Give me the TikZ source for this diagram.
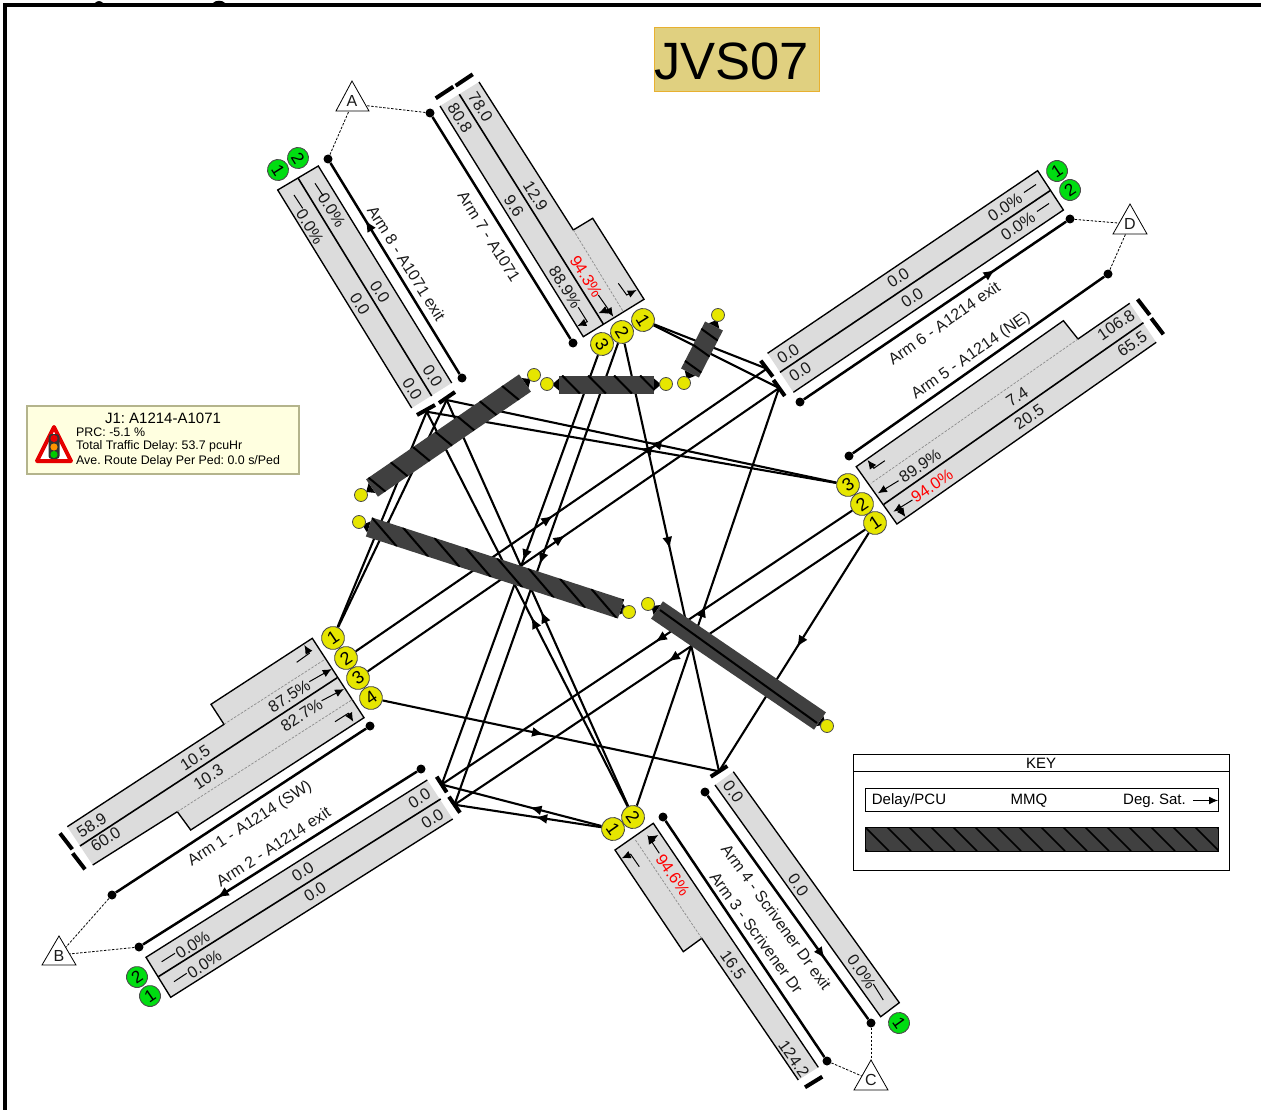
\documentclass[tikz,border=0pt]{standalone}
\usepackage{fontspec}
\setmainfont{Liberation Sans}
\usetikzlibrary{arrows.meta,decorations.markings,calc}
\definecolor{lanegrey}{HTML}{DCDCDC}
\definecolor{yel}{HTML}{E6E600}
\definecolor{grn}{HTML}{00DD11}
\definecolor{bardark}{HTML}{404040}
\definecolor{txt}{HTML}{1A1A1A}
\definecolor{titlefill}{HTML}{E0D080}
\definecolor{titleedge}{HTML}{E8B030}
\definecolor{infofill}{HTML}{FFFFE0}
\definecolor{infoedge}{HTML}{B4B48C}
\newcounter{tn}
\frenchspacing
\tikzset{
  x=1pt,y=-1pt,
  lanefill/.style={fill=lanegrey,draw=none},
  laneline/.style={draw=black,line width=1.35pt,line join=miter},
  lanediv/.style={draw=black,line width=1.6pt},
  lanedash/.style={draw=gray!90,line width=.7pt,dash pattern=on 2.5pt off 1.5pt},
  stopbar/.style={draw=black,line width=4pt},
  conn/.style={draw=black,line width=2.1pt},
  midarrow/.style={postaction={decorate,decoration={markings,mark=at position #1 with {\arrow{Latex[length=12pt,width=10pt]}}}}},
  armline/.style={draw=black,line width=2.5pt,shorten >=0pt},
  armdot/.style={circle,fill=black,minimum size=9pt,inner sep=0pt},
  stub/.style={draw=black,line width=1pt,-{Latex[length=9pt,width=8pt]}},
  stubline/.style={draw=black,line width=1pt},
  tlink/.style={draw=black,line width=.8pt,dash pattern=on 2.5pt off 1.5pt},
  ycirc/.style={circle,fill=yel,draw=black!70,line width=.9pt,minimum size=23pt,inner sep=0pt,font=\fontsize{18}{18}\selectfont},
  gcirc/.style={circle,fill=grn,draw=black!70,line width=.9pt,minimum size=21pt,inner sep=0pt,font=\fontsize{17}{17}\selectfont},
  ydot/.style={circle,fill=yel,draw=black!70,line width=.8pt,minimum size=13pt,inner sep=0pt},
  lbl/.style={inner sep=0pt,text=txt,font=\fontsize{16.3}{16.3}\selectfont},
  armlbl/.style={inner sep=0pt,text=txt,font=\fontsize{16}{16}\selectfont},
  tri/.style={draw=black,fill=white,line width=.8pt,line join=miter},
  trilbl/.style={inner sep=0pt,text=txt,font=\fontsize{16}{16}\selectfont},
}
\newcommand{\lane}[1]{\fill[lanefill] #1 -- cycle; \draw[laneline] #1;}
\newcommand{\tx}[4]{\stepcounter{tn}\node[lbl,rotate=#3] (tx\arabic{tn}) at (#1,#2) {#4};}
\newcommand{\txr}[4]{\stepcounter{tn}\node[lbl,rotate=#3,text=red] (tx\arabic{tn}) at (#1,#2) {#4};}
% \hatchbar{x1}{y1}{x2}{y2}{width}{shear}{spacing}{offset}
\newcommand{\hatchbar}[8]{%
  \begin{scope}[shift={(#1,#2)}]
    \pgfmathsetmacro{\bang}{atan2(-(#4-#2),#3-#1)}
    \pgfmathsetmacro{\blen}{veclen(#3-#1,#4-#2)}
    \pgfmathsetmacro{\hw}{#5/2}
    \begin{scope}[rotate=\bang]
      \fill[black] (0,-6) -- (-7,0) -- (0,6) -- cycle;
      \fill[black] (\blen,-6) -- (\blen+7,0) -- (\blen,6) -- cycle;
      \fill[bardark] (0,-\hw) rectangle (\blen,\hw);
      \begin{scope}
        \clip (0,-\hw) rectangle (\blen,\hw);
        \pgfmathsetmacro{\nxt}{#8+#7}
        \pgfmathsetmacro{\lst}{\blen+abs(#6)+#7}
        \foreach \t in {#8,\nxt,...,\lst}{
          \draw[black,line width=2pt] (\t-#6/2,-\hw) -- (\t+#6/2,\hw);
        }
      \end{scope}
    \end{scope}
  \end{scope}}
\begin{document}
\begin{tikzpicture}
\useasboundingbox (0,0) rectangle (1261,1110);
% frame and clipped title descenders
\draw[black,line width=4.4pt] (5,1110) -- (5,5) -- (1261,5);
\fill[black] (95,3) .. controls (97,0.5) and (101,0.5) .. (103,3) -- cycle;
\fill[black] (213,3) .. controls (215,0) and (223,0) .. (225,3) -- cycle;

% title
\node[draw=titleedge,fill=titlefill,line width=.9pt,minimum width=165pt,minimum height=64pt,inner sep=0pt] (titlebox) at (736.5,59) {};
\node[anchor=west,inner sep=0pt,font=\fontsize{52.5}{52.5}\selectfont] (title) at (654,61) {JVS07};

% info box
\node[draw=infoedge,fill=infofill,line width=1.1pt,minimum width=272pt,minimum height=68pt,inner sep=0pt] (info) at (163,440) {};
\node[inner sep=0pt,font=\fontsize{15}{15}\selectfont] (infot) at (163,418) {J1: A1214-A1071};
\node[anchor=west,inner sep=0pt,font=\fontsize{12.4}{12.4}\selectfont] (info1) at (76,432) {PRC: -5.1 \%};
\node[anchor=west,inner sep=0pt,font=\fontsize{12.4}{12.4}\selectfont] (info2) at (76,446) {Total Traffic Delay: 53.7 pcuHr};
\node[anchor=west,inner sep=0pt,font=\fontsize{12.4}{12.4}\selectfont] (info3) at (76,461) {Ave. Route Delay Per Ped: 0.0 s/Ped};
\draw[red!90!black,fill=white,line width=4pt,line join=round] (54,427) -- (71,461) -- (37,461) -- cycle;
\fill[black!80,rounded corners=3pt] (48.5,434) rectangle (59.5,459);
\fill[red!90!black] (54,438.5) circle (3.6);
\fill[orange!85!yellow] (54,447) circle (3.6);
\fill[green!80!black] (54,454.5) circle (3.6);

% key
\draw[black,line width=1pt,fill=white] (853,754) rectangle (1229,870);
\draw[black,line width=1pt] (853,771) -- (1229,771);
\node[inner sep=0pt,font=\fontsize{15}{15}\selectfont] (keyt) at (1041,763.5) {KEY};
\draw[black,line width=.9pt,fill=white] (865,788) rectangle (1218,811);
\node[inner sep=0pt,font=\fontsize{15}{15}\selectfont] (k1) at (909,800.5) {Delay/PCU};
\node[inner sep=0pt,font=\fontsize{15}{15}\selectfont] (k2) at (1029,800.5) {MMQ};
\node[anchor=west,inner sep=0pt,font=\fontsize{15}{15}\selectfont] (k3) at (1123,800.5) {Deg. Sat.};
\draw[stub] (1193,800.5) -- (1218,800.5);
\fill[bardark] (865,827) rectangle (1218,851);
\begin{scope}
\clip (865,827) rectangle (1218,851);
\foreach \t in {0,...,17}{ \draw[black,line width=1.6pt] ({843+\t*22},827) -- ({867+\t*22},851); }
\end{scope}
\draw[black,line width=.9pt] (865,827) rectangle (1218,851);

% ------ lanes
% Arm 8
\lane{(411.7,408) -- (277.7,190) -- (318.3,166) -- (451.7,383)}
\draw[lanediv] (298,178) -- (431.7,396);
% Arm 7
\lane{(440,106) -- (583.3,336.7) -- (644,299.3) -- (592.7,218.3) -- (573.3,230) -- (479,82)}
\draw[lanediv] (459.3,94.3) -- (603.3,324);
\draw[lanedash] (573.3,230) -- (623.3,311.7);
% Arm 6
\lane{(793.4,392.3) -- (1063.4,210) -- (1037.6,170.7) -- (767.6,353.3)}
\draw[lanediv] (1050,190.7) -- (780,372.3);
% Arm 5
\lane{(1129.7,303.3) -- (1078,339) -- (1063.4,320.7) -- (856.2,466.7) -- (896.9,524) -- (1156.2,342.3)}
\draw[lanediv] (1143.4,322.7) -- (883.8,504.3);
\draw[lanedash] (1078,339) -- (871,483.3);
% Arm 1
\lane{(67.3,826.7) -- (224,724.3) -- (211,704.3) -- (312.3,638.3) -- (364,717.7) -- (190.7,830) -- (177.3,811.7) -- (92.7,865)}
\draw[lanediv] (80,846) -- (337.3,677.7);
\draw[lanedash] (224,724.3) -- (325,659.3);
\draw[lanedash] (177.3,811.7) -- (352.7,699.3);
% Arm 2
\lane{(427.3,780) -- (146,957.3) -- (170.7,997.3) -- (452.7,819)}
\draw[lanediv] (158.3,976.7) -- (440.7,799);
% Arm 3
\lane{(818.3,1067.3) -- (653.3,823.3) -- (615,850) -- (683.3,951.7) -- (701.7,938.3) -- (798.3,1080)}
\draw[lanedash] (701.7,938.3) -- (635,839.3);
% Arm 4
\lane{(715,785) -- (880.7,1016.7) -- (899.3,1002.7) -- (733.3,771.7)}

% ------ lane texts
\tx{432.7}{376}{-58}{0.0}\tx{412.3}{389}{-58}{0.0}
\tx{380}{291.7}{-58}{0.0}\tx{360}{304}{-58}{0.0}
\tx{331.7}{210}{-58}{0.0\%}\tx{310}{226.7}{-58}{0.0\%}
\draw[stubline] (315,183.3) -- (323.3,196);
\draw[stubline] (294,195) -- (302.7,208.3);

\tx{480.5}{107}{-58}{78.0}\tx{460}{118}{-58}{80.8}
\tx{535.5}{196}{-58}{12.9}\tx{514}{206}{-58}{9.6}
\txr{586}{276.7}{-58}{94.3\%}\tx{565}{287}{-58}{88.9\%}
\draw[stub] (618.3,283.3) -- (626.7,295) -- (636.7,290);
\draw[stub] (598.3,295) -- (608.3,309.3) -- (598.3,313.3);
\draw[stub] (608.3,309.3) -- (613.3,316.7);
\draw[stub] (578.3,307.3) -- (587.3,321.7) -- (577.3,326);

\tx{788}{354}{34}{0.0}\tx{800}{372}{34}{0.0}
\tx{898}{278}{34}{0.0}\tx{912}{298}{34}{0.0}
\tx{1005}{207}{34}{0.0\%}\tx{1018}{226}{34}{0.0\%}
\draw[stubline] (1024,192.5) -- (1036,184.5);
\draw[stubline] (1037,211.5) -- (1049,203.5);

\tx{1116}{325}{34}{106.8}\tx{1132}{344}{34}{65.5}
\tx{1017}{397}{34}{7.4}\tx{1029}{417}{34}{20.5}
\tx{920}{466}{34}{89.9\%}\txr{932}{486}{34}{94.0\%}
\draw[stub] (884.8,460.7) -- (873.8,468.3) -- (867.6,460);
\draw[stub] (898.6,480.7) -- (877.9,493.3);
\draw[stub] (912.4,500) -- (893.4,511.7);
\draw[stub] (899,508) -- (905.5,517);

\tx{91.7}{825}{33}{58.9}\tx{105.7}{839.3}{33}{60.0}
\tx{195}{757.7}{33}{10.5}\tx{208.3}{776.7}{33}{10.3}
\tx{289.3}{696}{33}{87.5\%}\tx{301.7}{715}{33}{82.7\%}
\draw[stub] (296.7,662.3) -- (309.3,653.3) -- (304.3,645);
\draw[stub] (309.3,681.7) -- (331.7,669);
\draw[stub] (321.7,700.7) -- (344,689);
\draw[stub] (335,721.7) -- (348.3,713.3) -- (353.3,721.7);

\tx{419.3}{798.3}{33}{0.0}\tx{432.3}{819}{33}{0.0}
\tx{302.7}{871.7}{33}{0.0}\tx{315}{891.7}{33}{0.0}
\tx{192.7}{945}{33}{0.0\%}\tx{204.3}{964.3}{33}{0.0\%}
\draw[stubline] (161.7,961.7) -- (175,953.3);
\draw[stubline] (174,981.7) -- (186.7,973.3);

\txr{672.7}{875}{-55}{94.6\%}\tx{733}{965}{-55}{16.5}\tx{794}{1059}{-55}{124.2}
\draw[stub] (639.3,866.7) -- (630.7,854.3) -- (621.7,858.3);
\draw[stub] (659.3,853.3) -- (647.3,835);
\draw[stub] (650,840) -- (658.3,835);

\tx{733.3}{791.7}{-55}{0.0}\tx{798.3}{885}{-55}{0.0}\tx{861.7}{971.7}{-55}{0.0\%}
\draw[stubline] (873.3,984) -- (883.3,1000);

% arm labels
\node[armlbl,rotate=-58] (a8l) at (406.5,263.3) {Arm 8 - A1071 exit};
\node[armlbl,rotate=-58] (a7l) at (489,236.7) {Arm 7 - A1071};
\node[armlbl,rotate=35] (a6l) at (944,323) {Arm 6 - A1214 exit};
\node[armlbl,rotate=35] (a5l) at (971,356) {Arm 5 - A1214 (NE)};
\node[armlbl,rotate=33] (a1l) at (250,824) {Arm 1 - A1214 (SW)};
\node[armlbl,rotate=33] (a2l) at (273.3,846.7) {Arm 2 - A1214 exit};
\node[armlbl,rotate=-54] (a4l) at (776.5,917) {Arm 4 - Scrivener Dr exit};
\node[armlbl,rotate=-54] (a3l) at (756.5,932.7) {Arm 3 - Scrivener Dr};

% stop-line connection points
\coordinate (b8a) at (426.7,411.7);
\coordinate (b8b) at (446.7,400);
\coordinate (b6a) at (766.8,368.7);
\coordinate (b6b) at (779,388);
\coordinate (b2a) at (441.7,784.5);
\coordinate (b2b) at (454.5,804.7);
\coordinate (b4) at (719,771.3);

% numbered stage circles
\node[ycirc,rotate=34] (y11) at (333,638) {1};
\node[ycirc,rotate=34] (y12) at (346,658) {2};
\node[ycirc,rotate=34] (y13) at (358,678) {3};
\node[ycirc,rotate=34] (y14) at (371,698) {4};
\node[ycirc,rotate=-58] (y71) at (643,320) {1};
\node[ycirc,rotate=-58] (y72) at (622,332) {2};
\node[ycirc,rotate=-58] (y73) at (602,344) {3};
\node[ycirc,rotate=34] (y51) at (875,523) {1};
\node[ycirc,rotate=34] (y52) at (862,504) {2};
\node[ycirc,rotate=34] (y53) at (848,485) {3};
\node[ycirc,rotate=-55] (y31) at (613,829) {1};
\node[ycirc,rotate=-55] (y32) at (633,817) {2};
\node[gcirc,rotate=-58] (g81) at (278,170) {1};
\node[gcirc,rotate=-58] (g82) at (298,158) {2};
\node[gcirc,rotate=34] (g61) at (1057,171) {1};
\node[gcirc,rotate=34] (g62) at (1070,190) {2};
\node[gcirc,rotate=34] (g22) at (137,977) {2};
\node[gcirc,rotate=34] (g21) at (150,996) {1};
\node[gcirc,rotate=-55] (g41) at (899,1023) {1};

% connectors through the junction
\draw[conn,midarrow=.48] (y11) -- (b8a);
\draw[conn,midarrow=.48] (y11) -- (b8b);
\draw[conn,midarrow=.48] (y12) -- (b6a);
\draw[conn,midarrow=.48] (y13) -- (b6b);
\draw[conn,midarrow=.48] (y14) -- (b4);
\draw[conn,midarrow=.48] (y71) -- (b6a);
\draw[conn,midarrow=.48] (y71) -- (b6b);
\draw[conn,midarrow=.48] (y72) -- (b2b);
\draw[conn,midarrow=.48] (y72) -- (b4);
\draw[conn,midarrow=.48] (y73) -- (b2a);
\draw[conn,midarrow=.48] (y53) -- (b8a);
\draw[conn,midarrow=.48] (y53) -- (b8b);
\draw[conn,midarrow=.48] (y52) -- (b2a);
\draw[conn,midarrow=.48] (y51) -- (b2b);
\draw[conn,midarrow=.48] (y51) -- (b4);
\draw[conn,midarrow=.45] (y31) -- (b2a);
\draw[conn,midarrow=.45] (y31) -- (b2b);
\draw[conn,midarrow=.48] (y32) -- (b8a);
\draw[conn,midarrow=.48] (y32) -- (b8b);
\draw[conn,midarrow=.48] (y32) -- (b6b);

% stop bars
\draw[stopbar] (417,415) -- (435,405);
\draw[stopbar] (439,403) -- (455,392);
\draw[stopbar] (435.7,98.3) -- (453.3,86.7);
\draw[stopbar] (455.7,85.7) -- (472.7,74.3);
\draw[stopbar] (760.7,360.7) -- (772.8,376.7);
\draw[stopbar] (773.4,380) -- (784.8,396);
\draw[stopbar] (1137.6,299.3) -- (1149.7,315);
\draw[stopbar] (1151.3,318.3) -- (1163.4,334.3);
\draw[stopbar] (60,833.3) -- (72.3,849.3);
\draw[stopbar] (72.7,853.3) -- (85,869.3);
\draw[stopbar] (436.7,776.7) -- (446.7,792.3);
\draw[stopbar] (449,796.7) -- (460,812.7);
\draw[stopbar] (805,1087.3) -- (822.3,1076.7);
\draw[stopbar] (710.7,776.7) -- (727.3,766);

% delay bars
\hatchbar{372}{488}{525}{383}{21}{6}{27}{6}
\hatchbar{559}{384.5}{654}{384.5}{18}{17.7}{26}{12}
\hatchbar{690}{373}{714}{326}{20}{-3}{18}{7}
\hatchbar{369}{527}{621}{609}{20}{33}{33}{16}
\hatchbar{657}{610}{820}{721}{21}{0}{500}{400}
\draw[black,line width=2pt] (660,610) -- (817,723);

% yellow dots
\node[ydot] (d1) at (534,375) {};
\node[ydot] (d2) at (547,384) {};
\node[ydot] (d3) at (666,384) {};
\node[ydot] (d4) at (684,383) {};
\node[ydot] (d5) at (718,315) {};
\node[ydot] (d6) at (361,495) {};
\node[ydot] (d7) at (359,522) {};
\node[ydot] (d8) at (629,612) {};
\node[ydot] (d9) at (648,604) {};
\node[ydot] (d10) at (827,726) {};

% arm lines and terminals
\node[armdot] (t8a) at (462,378) {};
\node[armdot] (t8b) at (328,159) {};
\node[armdot] (t7a) at (573,343) {};
\node[armdot] (t7b) at (430,113) {};
\node[armdot] (t6a) at (800,402) {};
\node[armdot] (t6b) at (1070,219) {};
\node[armdot] (t5a) at (849,456) {};
\node[armdot] (t5b) at (1108,274) {};
\node[armdot] (t1a) at (370,726) {};
\node[armdot] (t1b) at (112,895) {};
\node[armdot] (t2a) at (421,769) {};
\node[armdot] (t2b) at (139,947) {};
\node[armdot] (t3a) at (663,817) {};
\node[armdot] (t3b) at (827,1061) {};
\node[armdot] (t4a) at (705,792) {};
\node[armdot] (t4b) at (871,1023) {};
\draw[armline,midarrow=.73] (t8a) -- (t8b);
\draw[armline] (t7a) -- (t7b);
\draw[armline,midarrow=.73] (t6a) -- (t6b);
\draw[armline] (t5a) -- (t5b);
\draw[armline] (t1a) -- (t1b);
\draw[armline,midarrow=.73] (t2a) -- (t2b);
\draw[armline] (t3a) -- (t3b);
\draw[armline,midarrow=.73] (t4a) -- (t4b);

% lettered triangles
\coordinate (pa) at (352,104);
\coordinate (pb) at (59,955);
\coordinate (pc) at (871,1080);
\coordinate (pd) at (1130,224);
\draw[tlink] (t8b) -- (pa);
\draw[tlink] (t7b) -- (pa);
\draw[tlink] (t1b) -- (pb);
\draw[tlink] (t2b) -- (pb);
\draw[tlink] (t4b) -- (pc);
\draw[tlink] (t3b) -- (pc);
\draw[tlink] (t6b) -- (pd);
\draw[tlink] (t5b) -- (pd);
\draw[tri] (352,81) -- (369,111) -- (336,111) -- cycle;
\draw[tri] (59,936) -- (76,965) -- (42,965) -- cycle;
\draw[tri] (871,1060) -- (888,1090) -- (854,1090) -- cycle;
\draw[tri] (1130,204) -- (1147,234) -- (1113,234) -- cycle;
\node[trilbl] (la) at (352,101) {A};
\node[trilbl] (lb) at (59,956) {B};
\node[trilbl] (lc) at (871,1080) {C};
\node[trilbl] (ld) at (1130,224) {D};
\end{tikzpicture}
\end{document}
